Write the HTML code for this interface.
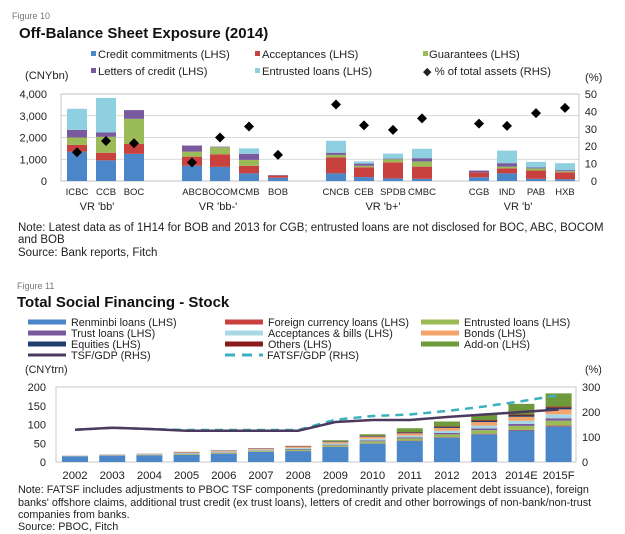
<!DOCTYPE html><html><head><meta charset="utf-8"><style>
body{margin:0;background:#fff;width:625px;height:534px;overflow:hidden}
svg{display:block;font-family:"Liberation Sans",Arial,sans-serif}
</style></head><body>
<svg id="s" width="625" height="534" xmlns="http://www.w3.org/2000/svg">
<text x="12" y="19" font-size="9" fill="#777">Figure 10</text>
<text x="19" y="38" font-size="15" font-weight="bold" fill="#111">Off-Balance Sheet Exposure (2014)</text>
<g font-size="11.2" fill="#222">
<rect x="91" y="51" width="5" height="5" fill="#4a86c8"/><text x="98" y="58">Credit commitments (LHS)</text>
<rect x="255" y="51" width="5" height="5" fill="#c9413e"/><text x="262" y="58">Acceptances (LHS)</text>
<rect x="423" y="51" width="5" height="5" fill="#9bbb59"/><text x="429" y="58">Guarantees (LHS)</text>
<rect x="91" y="68" width="5" height="5" fill="#7a5a9e"/><text x="98" y="75">Letters of credit (LHS)</text>
<rect x="255" y="68" width="5" height="5" fill="#8fd0e0"/><text x="262" y="75">Entrusted loans (LHS)</text>
<text x="423" y="75">◆ % of total assets (RHS)</text>
<text x="25" y="79">(CNYbn)</text><text x="585" y="81">(%)</text>
</g>
<g font-size="11.5" fill="#222">
<text x="18" y="231">Note: Latest data as of 1H14 for BOB and 2013 for CGB; entrusted loans are not disclosed for BOC, ABC, BOCOM</text>
<text x="18" y="243">and BOB</text><text x="18" y="256">Source: Bank reports, Fitch</text>
</g>
<text x="17" y="289" font-size="9" fill="#777">Figure 11</text>
<text x="17" y="307" font-size="15" font-weight="bold" fill="#111">Total Social Financing - Stock</text>
<g font-size="10.8" fill="#222">
<text x="25" y="373">(CNYtrn)</text><text x="585" y="373">(%)</text>
<text x="18" y="493">Note: FATSF includes adjustments to PBOC TSF components (predominantly private placement debt issuance), foreign</text>
<text x="18" y="506">banks' offshore claims, additional trust credit (ex trust loans), letters of credit and other borrowings of non-bank/non-trust</text>
<text x="18" y="518">companies from banks.</text><text x="18" y="530">Source: PBOC, Fitch</text>
</g>
<g id="g" fill="#222"></g>
</svg>
<script>
const g=document.getElementById('g');let h='';
const C=['#4a86c8','#c9413e','#9bbb59','#7a5a9e','#8fd0e0'];
const L=61,R=579,T=94,B=181;
const banks=[["ICBC",77,[1.35,1.66,2.0,2.35,3.32],16.5],["CCB",106,[0.95,1.3,2.03,2.23,3.82],23],["BOC",134,[1.25,1.7,2.86,3.26,3.26],21.7],
["ABC",192,[0.7,1.12,1.35,1.63,1.63],10.6],["BOCOM",220,[0.65,1.23,1.55,1.58,1.58],25],["CMB",249,[0.35,0.7,0.97,1.25,1.5],31.3],["BOB",278,[0.15,0.25,0.25,0.27,0.27],15],
["CNCB",336,[0.35,1.08,1.2,1.3,1.85],44],["CEB",364,[0.18,0.63,0.7,0.8,0.9],32],["SPDB",393,[0.12,0.86,1.0,1.03,1.26],29.4],["CMBC",422,[0.1,0.66,0.9,1.05,1.48],36],
["CGB",479,[0.17,0.4,0.4,0.48,0.48],33],["IND",507,[0.35,0.58,0.66,0.82,1.4],31.7],["PAB",536,[0.1,0.48,0.58,0.62,0.88],39],["HXB",565,[0.08,0.4,0.45,0.5,0.82],42]];
const yt=v=>B-v*(B-T)/4;
for(let i=0;i<=4;i++){const y=yt(i);h+=`<line x1="${L}" x2="${R}" y1="${y}" y2="${y}" stroke="#ccc" stroke-width="0.8"/>`;
h+=`<text x="${L-14}" y="${y+4}" font-size="11" text-anchor="end">${['0','1,000','2,000','3,000','4,000'][i]}</text>`;}
for(let i=0;i<=5;i++){const y=B-i*(B-T)/5;h+=`<text x="${R+18}" y="${y+4}" font-size="11" text-anchor="end">${i*10}</text>`;}
h+=`<rect x="${L}" y="${T}" width="${R-L}" height="${B-T}" fill="none" stroke="#bbb" stroke-width="0.8"/>`;
for(const [n,x,v,p] of banks){let prev=0;v.forEach((t,i)=>{if(t>prev){h+=`<rect x="${x-10}" y="${yt(t)}" width="20" height="${yt(prev)-yt(t)}" fill="${C[i]}"/>`;prev=t;}});
const py=B-p*(B-T)/50;h+=`<polygon points="${x},${py-5} ${x+5},${py} ${x},${py+5} ${x-5},${py}" fill="#000"/>`;
h+=`<text x="${x}" y="195" font-size="9.5" text-anchor="middle">${n}</text>`;}
[["VR 'bb'",97],["VR 'bb-'",218],["VR 'b+'",383],["VR 'b'",518]].forEach(([t,x])=>h+=`<text x="${x}" y="210" font-size="11" text-anchor="middle">${t}</text>`);
const lg=[["#4a86c8","Renminbi loans (LHS)"],["#c9413e","Foreign currency loans (LHS)"],["#9bbb59","Entrusted loans (LHS)"],["#7a5a9e","Trust loans (LHS)"],["#a8d8e6","Acceptances & bills (LHS)"],["#f3a46b","Bonds (LHS)"],["#1f3d6e","Equities (LHS)"],["#8b1a1a","Others (LHS)"],["#6e9a3c","Add-on (LHS)"]];
lg.forEach(([c,t],i)=>{const col=i%3,row=Math.floor(i/3);const x=[28,225,421][col],y=322+row*11;
h+=`<rect x="${x}" y="${y-2.5}" width="38" height="5" fill="${c}"/><text x="${x+43}" y="${y+4}" font-size="10.8">${t}</text>`;});
h+=`<line x1="28" x2="66" y1="355" y2="355" stroke="#4b3a5e" stroke-width="3"/><text x="71" y="359" font-size="10.8">TSF/GDP (RHS)</text>`;
h+=`<line x1="225" x2="263" y1="355" y2="355" stroke="#3bb0be" stroke-width="3" stroke-dasharray="10,7"/><text x="267" y="359" font-size="10.8">FATSF/GDP (RHS)</text>`;
const L2=56,R2=576,T2=387,B2=462;const yb=v=>B2-v*0.375,yr=r=>B2-r*0.25;
h+=`<rect x="${L2}" y="${T2}" width="${R2-L2}" height="${B2-T2}" fill="none" stroke="#bbb" stroke-width="0.8"/>`;
for(let i=0;i<=4;i++)h+=`<text x="46" y="${yb(i*50)+4}" font-size="11" text-anchor="end">${i*50}</text>`;
for(let i=0;i<=3;i++)h+=`<text x="582" y="${yr(i*100)+4}" font-size="11">${i*100}</text>`;
const yrs=["2002","2003","2004","2005","2006","2007","2008","2009","2010","2011","2012","2013","2014E","2015F"];
const blue=[15,17,18,19,22,27,29,40,49,56,65,74,84,95],tot=[17,20,22,27,31,37,43,58,74,90,108,128,155,183];
const tsf=[129,137,132,125,125,125,125,160,168,168,180,190,200,210],fat=[129,137,132,128,128,128,128,169,184,190,204,222,243,267];
let p1='',p2='';
yrs.forEach((y,i)=>{const x=75+i*37.2;let prev=0;const add=i>=9?(i>=12?0.4:0.3):(i>=7?0.15:0);
const rest=tot[i]-blue[i];const segs=[[0,blue[i]]];const nonAdd=rest*(1-add);
[[1,0.04],[2,0.25],[3,0.12],[4,0.2],[5,0.25],[6,0.08],[7,0.06]].forEach(([k,f])=>segs.push([k,nonAdd*f]));segs.push([8,rest*add]);
segs.forEach(([k,v])=>{if(v>0){h+=`<rect x="${x-13}" y="${yb(prev+v)}" width="26" height="${yb(prev)-yb(prev+v)}" fill="${lg[k][0]}"/>`;prev+=v;}});
h+=`<text x="${x}" y="479" font-size="11.3" text-anchor="middle">${y}</text>`;
p1+=`${x},${yr(tsf[i])} `;p2+=`${x},${yr(fat[i])} `;});
h+=`<polyline points="${p2}" fill="none" stroke="#3bb0be" stroke-width="2.5" stroke-dasharray="8,6"/>`;
h+=`<polyline points="${p1}" fill="none" stroke="#4b3a5e" stroke-width="2.5"/>`;
g.innerHTML=h;
</script>
</body></html>
